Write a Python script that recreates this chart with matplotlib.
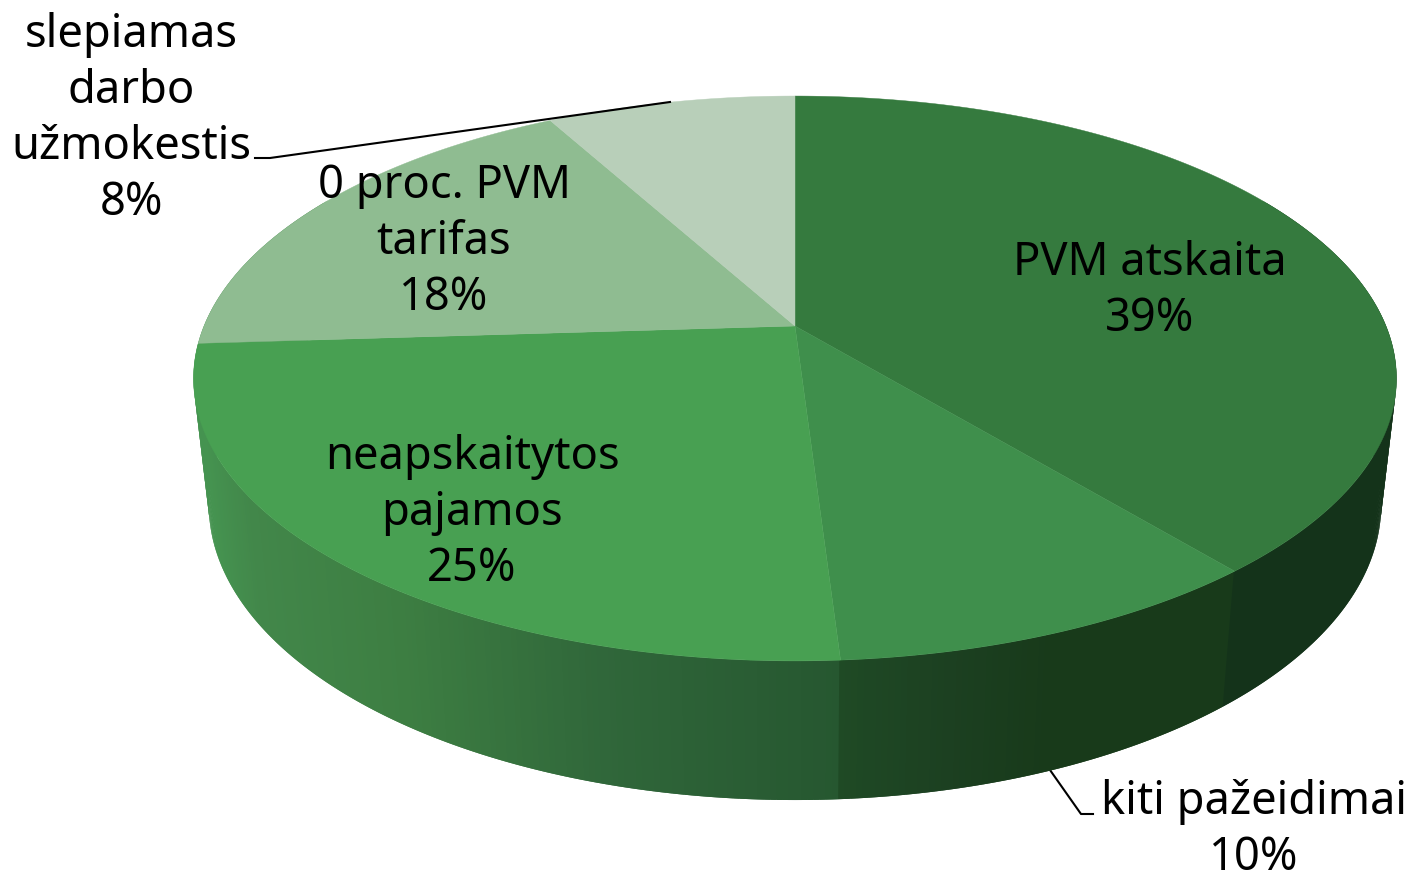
import numpy as np
import matplotlib
matplotlib.use("Agg")
import matplotlib.pyplot as plt
from matplotlib.colors import to_rgb
from matplotlib.patches import Polygon

# clockwise from the back of the pie
labels = ["PVM atskaita", "kiti pažeidimai", "neapskaitytos\npajamos", "0 proc. PVM\ntarifas", "slepiamas\ndarbo\nužmokestis"]
shares = [39, 10, 25, 18, 8]
top_colors = ["#357a3e", "#3f8f4c", "#48a052", "#8fbc91", "#b8cfb9"]

# shading of the rim along the screen x
rim_x = [205, 250, 400, 600, 838, 839, 950, 1050, 1233, 1234, 1400]
rim_colors = ["#459350", "#42874a", "#3d7e42", "#30673a", "#265730", "#1f4a25", "#1c4021", "#183a1a", "#183a1a", "#14331a", "#14331a"]

label_pos = [(1150, 291), (1254, 830), (472, 513), (444, 242), (131, 119)]

cx = 795
k = 0.1858
top = dict(A=591, B=272.7, y0=326)
bottom = dict(A=576, B=285, y0=450)


def project(theta, rim):
    w = 1 + k * np.cos(theta)
    return cx + rim["A"] * np.sin(theta) / w, rim["y0"] - rim["B"] * np.cos(theta) / w


def rim_color(x):
    rgb = np.array([to_rgb(c) for c in rim_colors])
    return [np.interp(x, rim_x, rgb[:, i]) for i in range(3)]


fig = plt.figure(figsize=(14.18, 8.74), dpi=100)
ax = fig.add_axes([0, 0, 1, 1])
ax.set_xlim(0, 1418)
ax.set_ylim(874, 0)
ax.axis("off")

# leader lines
ax.plot([1050, 1081, 1093], [770, 814, 814], color="black", lw=1.5, zorder=1)

# rim, painted left to right, each piece reaches under the next one so no seams show
edges = np.radians(np.linspace(300, 60, 481))
for i in range(len(edges) - 2):
    a, b, c = edges[i], edges[i + 1], edges[i + 2]
    xa, ya = project(a, top)
    xb, yb = project(b, top)
    xc, yc = project(c, top)
    xd, yd = project(c, bottom)
    xe, ye = project(a, bottom)
    col = rim_color((xa + xb) / 2)
    ax.add_patch(Polygon([(xa, ya), (xc, yc), (xd, yd), (xe, ye)], facecolor=col, edgecolor="none", lw=0, zorder=2))

# top faces
bounds = np.cumsum([0] + shares) / sum(shares) * 2 * np.pi
for i in range(len(shares)):
    t = np.linspace(bounds[i], bounds[i + 1], 200)
    x, y = project(t, top)
    pts = [(cx, top["y0"])] + list(zip(x, y))
    ax.add_patch(Polygon(pts, facecolor=top_colors[i], edgecolor=top_colors[i], lw=0.3, zorder=3))

ax.plot([255, 270, 670], [158, 158, 102], color="black", lw=1.5, zorder=4)

for name, share, pos in zip(labels, shares, label_pos):
    ax.text(pos[0], pos[1], f"{name}\n{share}%", ha="center", va="center", ma="center",
            fontsize=32.6, family="Noto Sans", color="black", linespacing=1.28, zorder=5)

fig.savefig("out.png", dpi=100)
